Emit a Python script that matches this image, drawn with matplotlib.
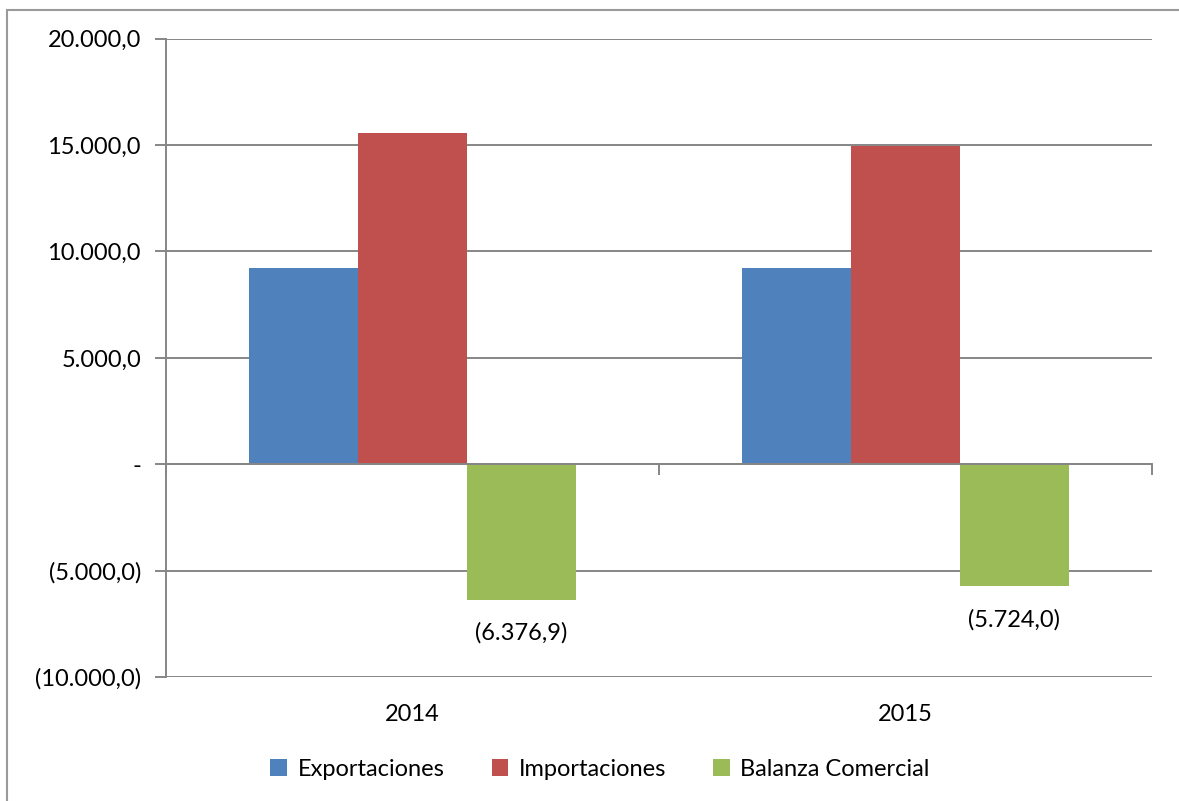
import numpy as np
import matplotlib
matplotlib.use("Agg")
import matplotlib.pyplot as plt
from matplotlib.patches import Rectangle

plt.rcParams['font.family'] = ['Lato', 'DejaVu Sans']

years = ['2014', '2015']
exportaciones = [9200.0, 9230.0]
importaciones = [15576.9, 14954.0]
balanza = [-6376.9, -5724.0]
series_names = ['Exportaciones', 'Importaciones', 'Balanza Comercial']
colors = ['#4F81BD', '#C0504D', '#9BBB59']
grid_color = '#868686'


def fmt_es(v):
    # Spanish style number: 1.234,5 and negatives in parentheses, zero as "-"
    if v == 0:
        return '-'
    s = f'{abs(v):,.1f}'.replace(',', 'X').replace('.', ',').replace('X', '.')
    return f'({s})' if v < 0 else s


fig = plt.figure(figsize=(11.79, 8.01), dpi=100)
fig.patches.append(Rectangle((7 / 1179, -0.05), 1.2, 1 - 10 / 801 + 0.05,
                             transform=fig.transFigure, fill=False,
                             edgecolor='#9a9a9a', linewidth=1.5))

ax = fig.add_axes([166 / 1179, 1 - 677 / 801, (1152 - 166) / 1179, (677 - 38.7) / 801])

x = np.arange(len(years))
width = 0.221
all_series = [exportaciones, importaciones, balanza]
bars = []
for i, (vals, name, c) in enumerate(zip(all_series, series_names, colors)):
    b = ax.bar(x + (i - 1) * width, vals, width, color=c, label=name, zorder=3)
    bars.append(b)

# data labels only on the trade balance
for rect, v in zip(bars[2], balanza):
    ax.annotate(fmt_es(v), (rect.get_x() + rect.get_width() / 2, v),
                xytext=(0, -24), textcoords='offset points', ha='center', va='center',
                fontsize=17, color='black')

ax.set_xlim(-0.5, 1.5)
ax.set_ylim(-10000, 20000)
yt = np.arange(-10000, 20001, 5000)
ax.set_yticks(yt)
ax.set_yticklabels([fmt_es(v) for v in yt], fontsize=17)
ax.grid(axis='y', color=grid_color, linewidth=1.4, zorder=0)
ax.tick_params(axis='y', length=8, width=1.4, color=grid_color, pad=10)

# category axis sits at zero
ax.spines['bottom'].set_position(('data', 0))
ax.spines['bottom'].set_color(grid_color)
ax.spines['bottom'].set_linewidth(1.4)
ax.spines['bottom'].set_zorder(4)
ax.set_xticks([-0.5, 0.5, 1.5])
ax.set_xticklabels(['', '', ''])
ax.tick_params(axis='x', length=8, width=1.4, color=grid_color, direction='out')
for sp in ['top', 'right']:
    ax.spines[sp].set_visible(False)
ax.spines['left'].set_color(grid_color)
ax.spines['left'].set_linewidth(1.4)

for xi, yr in zip(x, years):
    ax.text(xi, -0.058, yr, transform=ax.get_xaxis_transform(), ha='center', va='center',
            fontsize=17)

fig.legend(loc='center', bbox_to_anchor=(0.509, 1 - 769 / 801), ncol=3, frameon=False,
           fontsize=17, handlelength=0.7, handleheight=0.7, handletextpad=0.45,
           columnspacing=2.0)

fig.savefig('out.png', dpi=100)
